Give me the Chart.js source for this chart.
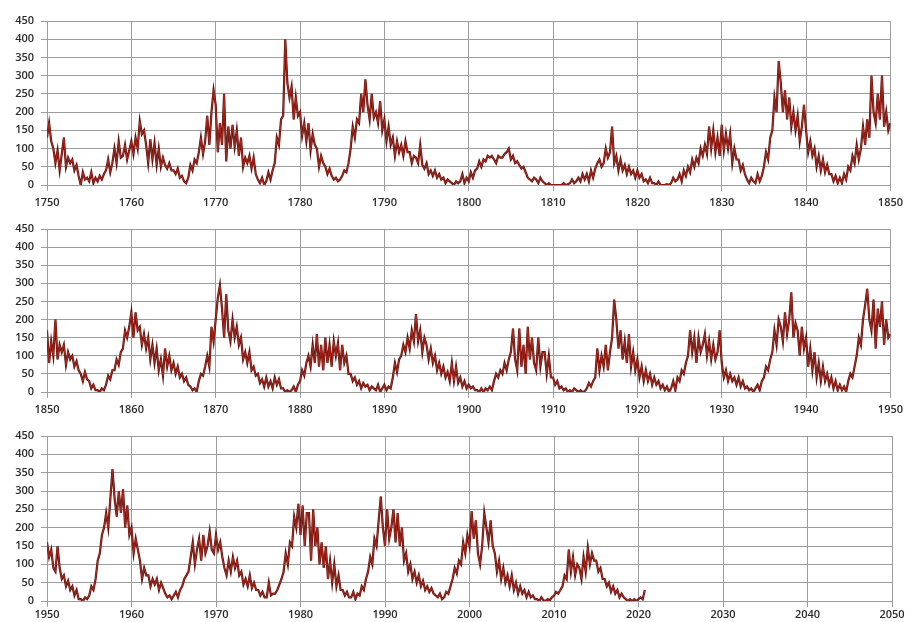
<!DOCTYPE html>
<html>
<head>
<meta charset="utf-8">
<script src="https://cdn.jsdelivr.net/npm/chart.js@4"></script>
<style>
  html, body { margin: 0; padding: 0; background: #fff; }
  #wrap { position: relative; width: 908px; height: 622px; }
  canvas { position: absolute; left: 0; }
</style>
</head>
<body>
<div id="wrap">
  <canvas id="p1" width="908" height="207" style="top:0px"></canvas>
  <canvas id="p2" width="908" height="207" style="top:207px"></canvas>
  <canvas id="p3" width="908" height="208" style="top:414px"></canvas>
</div>
<script>
// Sunspot number, 4 values per year (quarters)
const ssn1750 = [
  130,170,120,100, 60,95,40,85, 130,50,75,60, 70,40,55,25, 0,35,15,20, 10,35,5,20, 10,25,15,30, 40,70,35,60, 100,60,120,75, 80,110,70,95,
  120,85,130,100, 175,140,150,110, 60,125,70,115, 55,100,50,75, 55,45,60,40, 40,30,45,20, 25,10,5,20, 55,40,70,60, 90,130,85,120, 190,110,200,260,
  220,90,170,110, 250,65,160,100, 165,105,150,80, 130,50,75,60, 80,45,75,30, 15,5,20,0, 10,35,15,40, 60,130,110,180, 190,400,280,240, 270,180,240,190,
  200,135,170,120, 170,95,140,110, 100,50,80,60, 50,30,45,25, 15,20,10,15, 25,40,35,60, 100,160,130,180, 170,250,200,290, 220,180,250,185, 200,170,230,150,
  180,120,160,110, 130,80,120,90, 110,80,120,90, 90,60,80,75, 60,110,55,45, 60,30,40,25, 40,20,30,15, 20,5,15,10, 5,0,10,5, 10,30,5,20,
  10,35,20,40, 45,65,50,70, 65,80,75,80, 70,60,80,75, 75,85,90,100, 70,80,60,65, 55,45,50,35, 20,15,10,20, 15,5,20,10, 5,0,5,0,
  0,0,0,0, 0,5,0,2, 5,15,5,10, 20,10,30,15, 30,10,40,20, 45,60,70,50, 60,100,75,90, 160,60,80,40, 70,40,55,30, 50,30,40,20,
  40,20,30,10, 15,5,20,5, 5,0,10,0, 0,0,2,0, 5,20,10,15, 30,10,40,25, 50,35,70,50, 75,60,100,80, 110,85,160,100, 150,90,130,80,
  165,95,140,100, 140,60,100,70, 70,40,55,30, 15,5,20,10, 5,30,10,25, 50,90,70,130, 150,240,200,340, 280,200,260,180, 240,160,200,150, 190,120,160,220,
  150,90,120,80, 100,50,80,40, 70,35,55,30, 30,10,25,5, 20,5,30,15, 50,40,80,60, 110,70,100,160, 110,180,130,300, 200,170,250,180, 300,160,200,150
];

const ssn1850 = [
  170,80,140,100, 200,90,130,110, 130,75,110,90, 100,70,85,60, 50,30,55,35, 30,10,20,5, 5,0,10,5, 20,45,35,60, 60,90,75,110, 120,170,150,180,
  220,150,220,170, 180,130,160,120, 150,90,130,80, 120,60,90,45, 120,70,100,60, 80,50,70,40, 50,30,40,20, 15,5,10,0, 30,50,45,70, 100,70,180,140,
  200,260,295,230, 150,270,170,140, 200,150,180,130, 150,90,110,80, 110,60,70,45, 50,25,35,15, 40,15,30,10, 40,20,35,10, 10,0,5,0, 5,15,0,20,
  30,60,45,80, 100,70,130,80, 160,70,130,60, 150,80,130,70, 140,100,135,60, 130,80,100,50, 50,30,40,20, 30,10,25,15, 20,5,15,10, 5,20,0,10,
  20,5,15,10, 40,80,55,90, 100,130,110,150, 120,170,140,215, 140,170,110,150, 130,90,120,80, 100,60,80,50, 70,40,55,30, 80,30,70,25, 40,15,30,10,
  20,10,15,5, 5,0,10,0, 10,5,15,5, 30,50,40,60, 50,80,60,90, 110,175,90,60, 175,70,130,50, 180,90,150,80, 60,150,70,110, 110,50,100,40,
  40,20,30,10, 15,5,10,0, 5,0,10,5, 0,5,0,2, 10,25,15,30, 40,120,60,100, 70,130,60,110, 150,255,200,120, 170,90,140,80, 160,70,110,60,
  90,40,70,30, 60,30,50,20, 40,20,30,10, 20,5,15,0, 10,30,5,40, 30,60,50,80, 100,170,110,150, 80,150,110,130, 160,100,140,90, 130,90,110,170,
  80,40,60,30, 50,30,40,20, 40,15,30,10, 15,5,10,0, 10,20,5,30, 40,70,60,90, 110,170,130,200, 180,140,220,160, 200,275,150,190, 170,100,180,120,
  150,70,120,60, 110,40,80,30, 70,30,50,20, 40,10,30,5, 20,5,15,0, 30,50,40,70, 100,150,130,200, 240,285,200,170, 255,120,230,180, 250,130,200,150
];

const ssn1950 = [
  160,120,140,90, 80,150,90,60, 70,40,55,30, 40,15,30,5, 5,0,10,5, 15,40,30,60, 110,130,180,200, 240,200,280,360, 280,230,300,240, 305,200,260,180,
  200,130,170,140, 110,60,90,70, 70,40,60,45, 60,30,50,35, 20,10,15,5, 15,25,10,30, 40,60,70,80, 120,160,100,140, 170,110,180,130, 150,190,140,130,
  180,140,160,120, 90,70,110,80, 120,90,110,70, 80,45,60,40, 70,35,50,30, 30,15,25,10, 10,50,15,20, 20,30,45,60, 80,130,100,160, 150,230,200,265,
  180,260,150,240, 240,110,250,150, 200,100,160,90, 150,60,110,50, 100,40,70,30, 30,15,25,10, 10,25,5,20, 15,40,30,60, 80,120,100,170, 150,220,285,200,
  150,250,170,200, 250,160,240,150, 200,110,130,80, 100,60,80,50, 70,40,55,30, 40,25,35,20, 15,10,20,5, 10,25,20,40, 60,90,75,110, 100,160,130,180,
  150,245,170,220, 130,100,150,240, 200,160,220,150, 130,80,110,60, 90,50,70,40, 70,30,50,20, 40,20,30,10, 25,10,15,5, 5,0,10,2, 0,5,2,10,
  15,25,20,30, 40,70,60,140, 80,120,70,100, 90,60,120,80, 145,100,130,110, 110,80,90,60, 60,40,50,25, 40,20,30,10, 20,10,5,0, 5,0,5,0,
  5,10,5,30
];

const yTicks = [0, 50, 100, 150, 200, 250, 300, 350, 400, 450];
const xStep = 10;

// panels: start year, values, plot top / bottom inside its canvas, gap under axis for year labels
const panels = [
  { id: 'p1', start: 1750, values: ssn1750.concat([ssn1850[0]]), top: 21, bottom: 185, labelPad: 5 },
  { id: 'p2', start: 1850, values: ssn1850.concat([ssn1950[0]]), top: 22, bottom: 185, labelPad: 5 },
  { id: 'p3', start: 1950, values: ssn1950, top: 22, bottom: 187, labelPad: 1 }
];

const lineDark = '#5e120e';
const lineRed = '#b02a1f';
const gridColor = '#9c9c9c';
const tickFont = { family: '"Open Sans", Lato, sans-serif', size: 11, weight: '600' };

panels.forEach(p => {
  const canvas = document.getElementById(p.id);
  const pts = p.values.map((v, i) => ({ x: p.start + i * 0.25, y: v }));

  new Chart(canvas, {
    type: 'line',
    data: {
      datasets: [
        { data: pts, borderColor: lineRed, borderWidth: 1, pointRadius: 0, tension: 0, fill: false },
        { data: pts, borderColor: lineDark, borderWidth: 2.2, pointRadius: 0, tension: 0, fill: false }
      ]
    },
    options: {
      responsive: false,
      animation: false,
      layout: { padding: { top: p.top, right: 16, left: 0, bottom: 0 } },
      plugins: { legend: { display: false }, tooltip: { enabled: false } },
      scales: {
        x: {
          type: 'linear',
          min: p.start,
          max: p.start + 100,
          afterFit: s => { s.height = canvas.height - p.bottom; },
          grid: { color: gridColor, lineWidth: 1, tickLength: 6 },
          border: { color: gridColor },
          ticks: {
            stepSize: xStep,
            autoSkip: false,
            maxRotation: 0,
            padding: p.labelPad,
            color: '#2a2a2a',
            font: tickFont,
            callback: v => String(v)
          }
        },
        y: {
          min: 0,
          max: 450,
          afterFit: s => { s.width = 47; },
          afterBuildTicks: s => { s.ticks = yTicks.map(v => ({ value: v })); },
          grid: { color: gridColor, lineWidth: 1, tickLength: 6 },
          border: { color: gridColor },
          ticks: { padding: 7, color: '#2a2a2a', font: tickFont }
        }
      }
    }
  });
});
</script>
</body>
</html>
